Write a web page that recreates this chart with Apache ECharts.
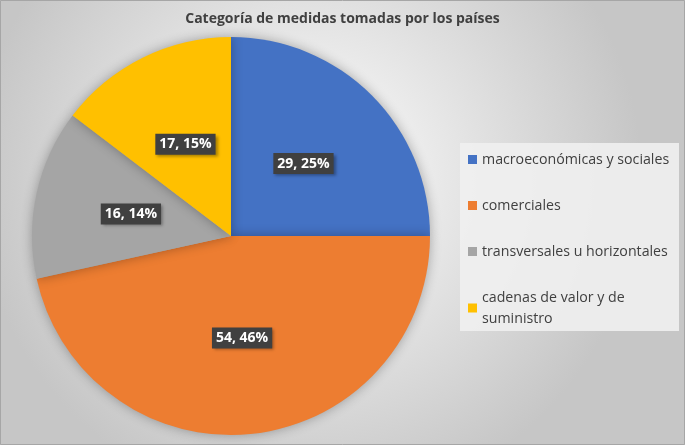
<!DOCTYPE html>
<html>
<head>
<meta charset="utf-8">
<script src="https://cdn.jsdelivr.net/npm/echarts@6/dist/echarts.min.js"></script>
<style>
  html, body { margin: 0; padding: 0; }
  #container { width: 685px; height: 445px; }
</style>
</head>
<body>
<div id="container"></div>
<script>
let titleText = "Categoría de medidas tomadas por los países";
let categories = [
  "macroeconómicas y sociales",
  "comerciales",
  "transversales u horizontales",
  "cadenas de valor y de suministro",
];
let values = [29, 54, 16, 17];
let colors = ["#4472C4", "#ED7D31", "#A5A5A5", "#FFC000"];

let dom = document.getElementById("container");
let myChart = echarts.init(dom, null, { renderer: "canvas" });

let pieData = [];
for (let i = 0; i < categories.length; i++) {
  pieData.push({ name: categories[i], value: values[i], itemStyle: { color: colors[i] } });
}

let option = {
  animation: false,
  backgroundColor: {
    type: "radial",
    x: 0.45,
    y: 0.4,
    r: 0.75,
    colorStops: [
      { offset: 0, color: "#ffffff" },
      { offset: 1, color: "#c6c6c6" },
    ],
  },
  title: {
    text: titleText,
    left: "center",
    top: 7,
    textStyle: {
      fontFamily: "Open Sans",
      fontSize: 14,
      fontWeight: "bold",
      color: "#404040",
    },
  },
  legend: {
    orient: "vertical",
    left: 460,
    top: 143,
    padding: [6, 1, 2, 8],
    itemGap: 25,
    icon: "rect",
    itemWidth: 9,
    itemHeight: 9,
    backgroundColor: "rgba(240,240,240,0.9)",
    textStyle: {
      fontFamily: "Open Sans",
      fontSize: 14.2,
      color: "#404040",
      width: 196,
      overflow: "break",
      lineHeight: 21,
    },
  },
  series: [
    {
      name: "medidas",
      type: "pie",
      center: [231, 236],
      radius: 199,
      startAngle: 90,
      clockwise: true,
      percentPrecision: 0,
      data: pieData,
      itemStyle: {
        shadowBlur: 12,
        shadowColor: "rgba(0,0,0,0.3)",
      },
      label: {
        show: true,
        position: "inside",
        formatter: "{c}, {d}%",
        fontFamily: "Open Sans",
        fontSize: 14,
        fontWeight: "bold",
        color: "#ffffff",
        backgroundColor: "#404040",
        padding: [4, 4, 3, 4],
        shadowBlur: 3,
        shadowOffsetX: 2,
        shadowOffsetY: 2,
        shadowColor: "rgba(0,0,0,0.35)",
      },
      labelLine: { show: false },
      emphasis: { scale: false },
    },
  ],
  graphic: [
    {
      type: "rect",
      shape: { x: 0.5, y: 0.5, width: 684, height: 444 },
      style: { fill: "none", stroke: "#a6a6a6", lineWidth: 1 },
      silent: true,
    },
  ],
};

myChart.setOption(option);
window.addEventListener("resize", myChart.resize);
</script>
</body>
</html>
